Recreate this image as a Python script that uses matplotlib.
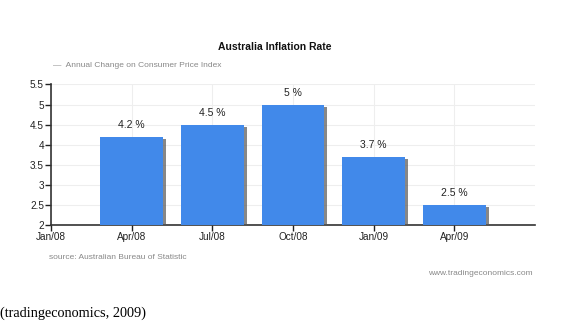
import matplotlib.pyplot as plt
import matplotlib.patheffects as pe
import numpy as np

plt.rcParams['font.family'] = ['Liberation Sans', 'DejaVu Sans']

# quarterly CPI annual change
quarters = ['Jan/08', 'Apr/08', 'Jul/08', 'Oct/08', 'Jan/09', 'Apr/09']
bar_pos = [1, 2, 3, 4, 5]
inflation = [4.2, 4.5, 5.0, 3.7, 2.5]
bar_labels = ['4.2 %', '4.5 %', '5 %', '3.7 %', '2.5 %']

fig = plt.figure(figsize=(5.75, 3.27), dpi=100)
ax = fig.add_axes([0.0887, 0.312, 0.8417, 0.4296])

base = 2
bars = ax.bar(bar_pos, [v - base for v in inflation], bottom=base, width=0.78,
              color='#4189EA', zorder=3)
for b in bars:
    b.set_path_effects([pe.SimplePatchShadow(offset=(2, -1.5), shadow_rgbFace='#555555', alpha=0.7),
                        pe.Normal()])

for x, v, t in zip(bar_pos, inflation, bar_labels):
    ax.annotate(t, (x, v), xytext=(0, 5), textcoords='offset points',
                ha='center', va='bottom', fontsize=7.5, color='#222222')

ax.set_xlim(0, 6)
ax.set_ylim(2, 5.5)
ax.set_xticks(np.arange(len(quarters)))
ax.set_xticklabels(quarters)
ax.set_yticks(np.arange(2, 5.51, 0.5))
ax.set_yticklabels(['2', '2.5', '3', '3.5', '4', '4.5', '5', '5.5'])
ax.tick_params(labelsize=7.2, colors='#222222', length=4, width=1, pad=1)
ax.grid(True, color='#eeeeee', linewidth=0.8, zorder=0)
ax.set_axisbelow(True)
for s in ['top', 'right']:
    ax.spines[s].set_visible(False)
ax.spines['left'].set_color('#333333')
ax.spines['bottom'].set_color('#333333')
ax.spines['left'].set_linewidth(1.2)
ax.spines['bottom'].set_linewidth(1.2)

fig.text(0.478, 0.856, 'Australia Inflation Rate', ha='center', va='center',
         fontsize=7.5, fontweight='bold', color='#111111')
fig.text(0.093, 0.801, '—  Annual Change on Consumer Price Index', ha='left', va='center',
         fontsize=6, color='#888888')
fig.text(0.085, 0.213, 'source: Australian Bureau of Statistic', ha='left', va='center',
         fontsize=6, color='#888888')
fig.text(0.926, 0.165, 'www.tradingeconomics.com', ha='right', va='center',
         fontsize=6, color='#888888')
fig.text(0.0, 0.043, '(tradingeconomics, 2009)', ha='left', va='center',
         fontsize=10.3, color='black', family=['Liberation Serif', 'DejaVu Serif'])

fig.savefig('out.png', dpi=100)
